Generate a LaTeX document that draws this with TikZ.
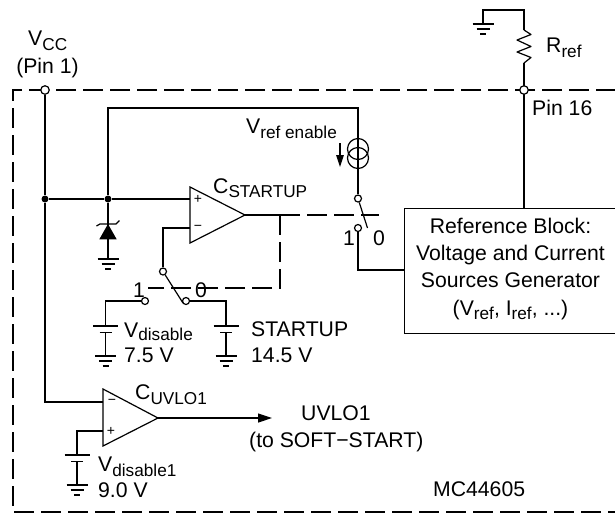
\documentclass[tikz,border=0pt]{standalone}
\usepackage{fontspec}
\setmainfont{Liberation Sans}
\usetikzlibrary{arrows.meta}
\newcommand{\subt}[2][5]{\raisebox{-#1pt}{\fontsize{17.2}{17.2}\selectfont #2}}
\tikzset{
  wire/.style={line width=1.2pt,line join=miter},
  ctrl/.style={line width=2.5pt,dash pattern=on 20pt off 7pt},
  lbl/.style={inner sep=0pt,anchor=base west,font=\fontsize{21.2}{27}\selectfont},
  sign/.style={inner sep=0pt,font=\fontsize{14}{14}\selectfont},
  pinc/.style={circle,draw,fill=white,line width=1.2pt,inner sep=0pt,minimum size=8.5pt},
  swc/.style={circle,draw,fill=white,line width=1.2pt,inner sep=0pt,minimum size=7pt},
  dotn/.style={circle,fill=black,inner sep=0pt,minimum size=7pt},
  gnd/.pic={
    \draw[wire] (-10.5,0) -- (10.5,0) (-6.5,5) -- (6.5,5) (-3,10) -- (3,10);
  },
  batt/.pic={
    \draw[wire] (-12.5,0) -- (12.5,0) (-6,6.5) -- (6,6.5) (0,6.5) -- (0,30);
    \pic at (0,30) {gnd};
  }
}
\begin{document}
\begin{tikzpicture}[x=1pt,y=-1pt]
\useasboundingbox (0,0) rectangle (615,515);
% named points
\coordinate (boxE) at (616,90);
\coordinate (boxNW) at (13,90);
\coordinate (boxSW) at (13,512);
\coordinate (boxSE) at (616,512);
\node[lbl] (vcc) at (28,45) {V\subt{CC}};
\node[lbl,anchor=base] (pin1) at (47.5,73) {(Pin 1)};
% dashed package outline
\draw[ctrl] (boxE) -- (boxNW) -- (boxSW) -- (boxSE);
% ref block
\node[draw,line width=1.2pt,fill=white,minimum width=210.5pt,minimum height=125pt,inner sep=0pt,anchor=north west] (ref) at (404,208) {};
\node[inner sep=0pt,anchor=base] (ref1) at (510.5,233) {\fontsize{21.2}{27}\selectfont Reference Block:};
\node[inner sep=0pt,anchor=base] (ref2) at (510.5,260) {\fontsize{21.2}{27}\selectfont Voltage and Current};
\node[inner sep=0pt,anchor=base] (ref3) at (510.5,287) {\fontsize{21.2}{27}\selectfont Sources Generator};
\node[inner sep=0pt,anchor=base] (ref4) at (510.5,315) {\fontsize{21.2}{27}\selectfont (V\subt[4]{ref}, I\subt[4]{ref}, ...)};
% Pin 16 and Rref
\coordinate (r16) at (524,208);
\coordinate (rtop) at (524,10);
\coordinate (gtop) at (483,10);
\coordinate (g1) at (483,24);
\coordinate (ra) at (524,30);
\coordinate (rb) at (524,63);
\draw[wire] (rb) -- (r16);
\draw[wire] (ra) -- (rtop) -- (gtop) -- (g1);
\draw[wire,line join=round] (ra) -- (531,34.5) -- (517,40) -- (531,46.5) -- (517,52) -- (531,57.5) -- (rb);
\pic at (g1) {gnd};
\node[pinc] (pin16) at (524,90) {};
\node[lbl] (rref) at (546,52) {R\subt{ref}};
\node[lbl] (pin16t) at (532,115) {Pin 16};
% Vcc rail
\node[pinc] (pinvcc) at (45,90) {};
\node[dotn] (d1) at (45,199) {};
\node[dotn] (d2) at (108,199) {};
\coordinate (c2in) at (103,402);
\coordinate (c2corner) at (45,402);
\draw[wire] (pinvcc) -- (d1) -- (c2corner) -- (c2in);
\coordinate (c1p) at (190,199);
\draw[wire] (d1) -- (d2) -- (c1p);
% Vref enable branch
\coordinate (tr) at (358,108);
\coordinate (tl) at (108,108);
\node[swc] (s1a) at (358,198.5) {};
\node[swc] (s1b) at (358,228) {};
\draw[wire] (d2) -- (tl) -- (tr) -- (s1a);
\node[circle,draw,line width=1.2pt,inner sep=0pt,minimum size=21pt] (cs1) at (358,149) {};
\node[circle,draw,line width=1.2pt,inner sep=0pt,minimum size=21pt] (cs2) at (358,158) {};
\coordinate (arA) at (340,143);
\coordinate (arB) at (340,167);
\draw[wire,-{Triangle[length=12pt,width=7.5pt]}] (arA) -- (arB);
\node[lbl] (vrefen) at (246,133) {V\subt{ref enable}};
% control lines
\coordinate (cj) at (280,215);
\coordinate (cend) at (379,215);
\coordinate (cdn) at (280,288);
\coordinate (cleft) at (148,288);
\draw[ctrl] (cj) -- (cend);
\draw[ctrl] (cj) -- (cdn) -- (cleft);
% upper switch
\coordinate (s1lever) at (367.5,228);
\draw[wire] (s1a) -- (s1lever);
\coordinate (s1c) at (358,270);
\draw[wire] (s1b) -- (s1c) -- (ref.west |- s1c);
\node[lbl] (s11) at (343,245) {1};
\node[lbl] (s10) at (373,245) {0};
% zener
\coordinate (zg) at (108,259);
\draw[wire] (d2) -- (zg);
\fill (108,224) -- (116.7,239.3) -- (99.3,239.3) -- cycle;
\draw[wire] (96.5,226) -- (100,224) -- (116,224) -- (119.5,220.5);
\pic at (zg) {gnd};
% comparator 1
\coordinate (c1a) at (190,187);
\coordinate (c1b) at (190,243);
\coordinate (c1o) at (245,215);
\draw[wire,fill=white] (c1a) -- (c1o) -- (c1b) -- cycle;
\node[sign] (c1plus) at (198,199) {+};
\node[sign] (c1minus) at (198,228) {−};
\node[lbl] (c1t) at (213,193) {C\subt[4]{STARTUP}};
\draw[wire] (c1o) -- (cj);
% lower switch
\coordinate (c1n) at (190,228);
\coordinate (c1nc) at (163,228);
\node[lbl] (s21t) at (133,297) {1};
\node[lbl] (s20t) at (195,297) {0};
\node[swc] (s2a) at (163,271.5) {};
\node[swc] (s21) at (145,301) {};
\node[swc] (s20) at (186,301) {};
\draw[wire] (c1n) -- (c1nc) -- (s2a);
\coordinate (s2lever) at (183,303);
\draw[wire] (s2a) -- (s2lever);
\coordinate (b1) at (105.5,326);
\coordinate (b2) at (226,326);
\draw[wire] (s21) -- (105.5,301) -- (b1);
\draw[wire] (s20) -- (226,301) -- (b2);
\pic at (b1) {batt};
\pic at (b2) {batt};
\node[lbl] (vdis) at (124,337) {V\subt[3]{disable}};
\node[lbl] (v75) at (124,362) {7.5 V};
\node[lbl] (start) at (251,336) {STARTUP};
\node[lbl] (v145) at (251,362) {14.5 V};
% comparator 2
\coordinate (c2a) at (103,389);
\coordinate (c2b) at (103,446);
\coordinate (c2o) at (158,418);
\draw[wire,fill=white] (c2a) -- (c2o) -- (c2b) -- cycle;
\node[sign] (c2minus) at (112,402) {−};
\node[sign] (c2plus) at (111,431) {+};
\node[lbl] (c2t) at (135,399) {C\subt{UVLO1}};
\coordinate (c2out) at (272,418);
\draw[wire,-{Triangle[length=14pt,width=9pt]}] (c2o) -- (c2out);
\coordinate (c2p) at (103,431);
\coordinate (c2pc) at (77,431);
\coordinate (b3) at (77,455);
\draw[wire] (c2p) -- (c2pc) -- (b3);
\pic at (b3) {batt};
\node[lbl] (uvlo) at (301,420) {UVLO1};
\node[lbl] (soft) at (249,447) {(to SOFT−START)};
\node[lbl] (vdis1) at (98,471) {V\subt{disable1}};
\node[lbl] (v90) at (98,497) {9.0 V};
\node[lbl] (mc) at (433,496) {MC44605};
\end{tikzpicture}
\end{document}
